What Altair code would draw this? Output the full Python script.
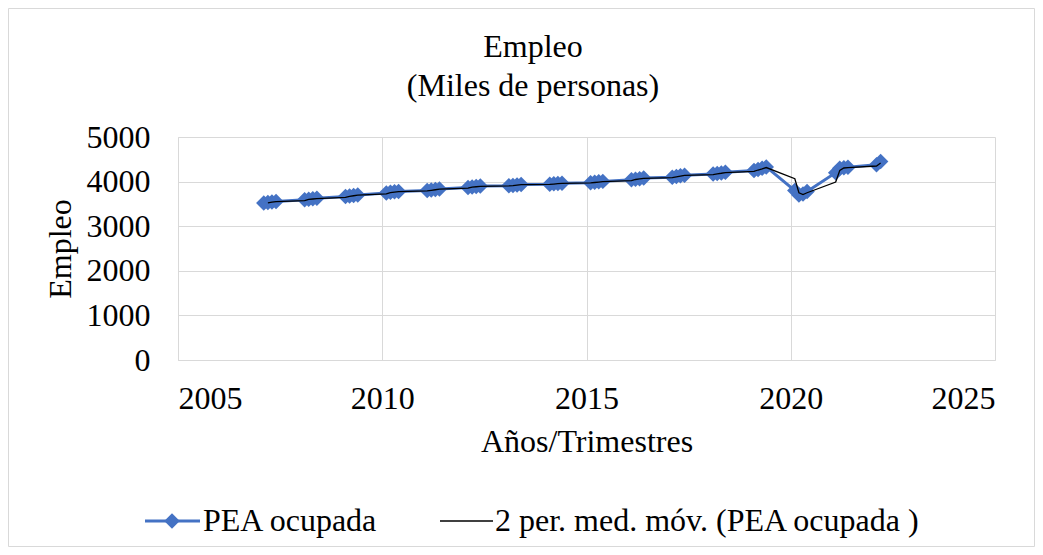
import altair as alt
import pandas as pd

years = [2007, 2008, 2009, 2010, 2011, 2012, 2013, 2014, 2015, 2016, 2017, 2018, 2019, 2020, 2021, 2022]
quarters_per_year = [4, 4, 4, 4, 4, 4, 4, 4, 4, 4, 4, 4, 4, 4, 4, 2]
pea_ocupada = [
    3520, 3530, 3545, 3555,
    3595, 3605, 3615, 3625,
    3665, 3675, 3690, 3700,
    3745, 3760, 3770, 3780,
    3800, 3810, 3825, 3835,
    3870, 3880, 3890, 3900,
    3905, 3915, 3925, 3935,
    3940, 3950, 3955, 3965,
    3975, 3985, 3995, 4005,
    4040, 4055, 4065, 4080,
    4100, 4115, 4130, 4145,
    4170, 4180, 4195, 4210,
    4250, 4270, 4300, 4330,
    3800, 3700, 3720, 3780,
    4200, 4300, 4310, 4320,
    4380, 4450,
]
x_ticks = [2005, 2010, 2015, 2020, 2025]
y_ticks = [0, 1000, 2000, 3000, 4000, 5000]
title_lines = ["Empleo", "(Miles de personas)"]
legend_labels = ["PEA ocupada", "2 per. med. móv. (PEA ocupada )"]

periodo = []
for y, n in zip(years, quarters_per_year):
    for q in range(1, n + 1):
        periodo.append(round(y + q / 10, 1))

df = pd.DataFrame({"periodo": periodo, "valor": pea_ocupada, "orden": list(range(len(periodo)))})

FONT = "Liberation Serif, Times New Roman, Times, serif"
FS = 32
BLUE = "#4472C4"
W, H = 817, 223
MSIZE = 240

xenc = alt.X("periodo:Q", scale=alt.Scale(domain=[2005, 2025], nice=False, zero=False),
             axis=alt.Axis(values=x_ticks, format="d", title="Años/Trimestres",
                           titlePadding=12, labelPadding=23, ticks=False))
yenc = alt.Y("valor:Q", scale=alt.Scale(domain=[0, 5000], nice=False),
             axis=alt.Axis(values=y_ticks, format="d", title="Empleo",
                           titlePadding=9, labelPadding=28, ticks=False))

base = alt.Chart(df)

pea_line = base.mark_line(color=BLUE, strokeWidth=3).encode(x=xenc, y=yenc, order="orden:Q")
pea_pts = base.mark_point(shape="diamond", filled=True, color=BLUE, size=MSIZE, opacity=1).encode(
    x="periodo:Q", y="valor:Q")

ma = base.transform_window(
    ma="mean(valor)", rn="row_number()", frame=[-1, 0], sort=[alt.SortField("orden")]
).transform_filter("datum.rn > 1").mark_line(color="black", strokeWidth=1.3).encode(
    x="periodo:Q", y="ma:Q", order="orden:Q")

one = pd.DataFrame({"a": [0]})
dec = alt.Chart(one)
LY = 384
txt = dict(baseline="middle", font=FONT, fontSize=FS, color="black")
t1 = dec.mark_text(align="center", **txt).encode(x=alt.value(355), y=alt.value(-90), text=alt.value(title_lines[0]))
t2 = dec.mark_text(align="center", **txt).encode(x=alt.value(355), y=alt.value(-51), text=alt.value(title_lines[1]))
leg1_line = dec.mark_rule(color=BLUE, strokeWidth=3).encode(
    x=alt.value(-33), x2=alt.value(22), y=alt.value(LY))
leg1_pt = dec.mark_point(shape="diamond", filled=True, color=BLUE, size=MSIZE, opacity=1).encode(
    x=alt.value(-6), y=alt.value(LY))
leg1_txt = dec.mark_text(align="left", **txt).encode(
    x=alt.value(25), y=alt.value(LY), text=alt.value(legend_labels[0]))
leg2_line = dec.mark_rule(color="black", strokeWidth=1.3).encode(
    x=alt.value(262), x2=alt.value(315), y=alt.value(LY))
leg2_txt = dec.mark_text(align="left", **txt).encode(
    x=alt.value(317), y=alt.value(LY), text=alt.value(legend_labels[1]))
frame = dec.mark_rect(fill=None, stroke="#d9d9d9", strokeWidth=1).encode(
    x=alt.value(-169.5), x2=alt.value(W + 39.5), y=alt.value(-128.5), y2=alt.value(H + 186.5))

chart = alt.layer(
    frame, pea_line, pea_pts, ma, t1, t2, leg1_line, leg1_pt, leg1_txt, leg2_line, leg2_txt
).properties(
    width=W, height=H,
    autosize=alt.AutoSizeParams(type="none"),
    padding={"left": 170, "top": 129, "right": 40, "bottom": 187},
).configure_view(stroke=None).configure_axis(
    labelFont=FONT, titleFont=FONT, labelFontSize=FS, titleFontSize=FS,
    labelColor="black", titleColor="black", titleFontWeight="normal",
    gridColor="#d9d9d9", domainColor="#d9d9d9", gridWidth=1,
)

chart.save("out.html", embed_options={"renderer": "svg", "actions": False})
